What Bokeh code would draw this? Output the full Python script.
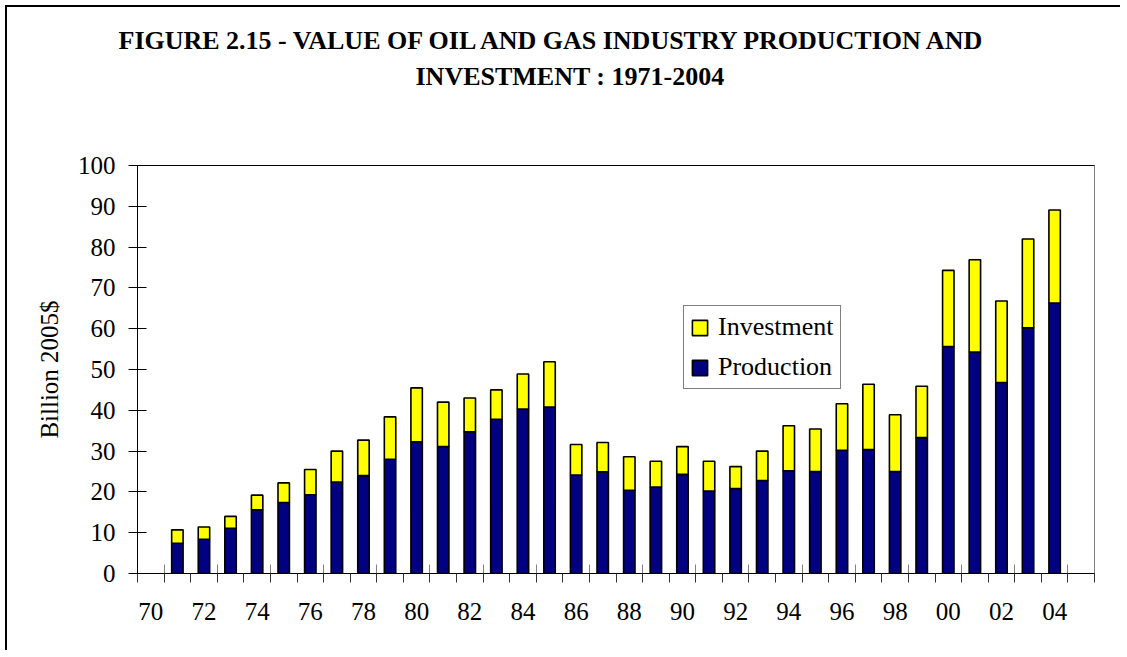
from bokeh.plotting import figure
from bokeh.models import (Range1d, LinearAxis, FixedTicker, ColumnDataSource,
                          Legend, LegendItem, Title)
from bokeh.embed import file_html
from bokeh.resources import INLINE

# ---------------- data ----------------
axis_years = list(range(1970, 2006))          # category slots on the x axis
years = list(range(1971, 2005))
production = [7.4, 8.4, 11.1, 15.6, 17.4, 19.3, 22.4, 24.0, 28.0, 32.3,
              31.1, 34.7, 37.8, 40.3, 40.8, 24.1, 24.9, 20.4, 21.2, 24.3,
              20.2, 20.8, 22.8, 25.2, 25.0, 30.2, 30.4, 25.0, 33.3, 55.6,
              54.3, 46.8, 60.2, 66.3]
investment = [3.3, 3.0, 2.9, 3.6, 4.8, 6.2, 7.6, 8.7, 10.4, 13.2,
              10.9, 8.3, 7.2, 8.6, 11.1, 7.5, 7.2, 8.2, 6.3, 6.8,
              7.3, 5.4, 7.2, 11.0, 10.4, 11.4, 16.0, 13.9, 12.6, 18.7,
              22.6, 20.0, 21.8, 22.8]
label_years = list(range(1970, 2005, 2))
y_ticks = list(range(0, 101, 10))
title_line1 = "FIGURE 2.15 - VALUE OF OIL AND GAS INDUSTRY PRODUCTION AND"
title_line2 = "INVESTMENT : 1971-2004"
y_title = "Billion 2005$"

FONT = "Liberation Serif"
NAVY = "#000080"
YELLOW = "#FFFF00"

first = axis_years[0]
n_slots = len(axis_years)
x_pos = [y - first + 0.5 for y in years]

source = ColumnDataSource(dict(x=x_pos, Production=production, Investment=investment))

p = figure(width=1115, height=645, output_backend="svg", toolbar_location=None,
           x_range=Range1d(0, n_slots), y_range=Range1d(0, 100),
           min_border_left=130, min_border_right=28, min_border_top=158,
           min_border_bottom=79, x_axis_type=None, y_axis_type=None)
p.background_fill_color = "white"
p.border_fill_color = "white"
p.outline_line_color = "#808080"
p.outline_line_width = 1
p.styles = {"margin-top": "5px", "margin-left": "5px",
            "border-top": "2px solid black", "border-left": "2px solid black"}

renderers = p.vbar_stack(["Production", "Investment"], x="x", width=0.43,
                         color=[NAVY, YELLOW], line_color="black", line_width=1.6,
                         source=source)

# y axis
yax = LinearAxis(ticker=FixedTicker(ticks=y_ticks, minor_ticks=[]))
yax.axis_label = y_title
yax.axis_label_text_font = FONT
yax.axis_label_text_font_size = "25px"
yax.axis_label_text_font_style = "normal"
yax.axis_label_text_color = "black"
yax.axis_label_standoff = 12
yax.major_label_text_font = FONT
yax.major_label_text_font_size = "25px"
yax.major_label_text_color = "black"
yax.major_label_standoff = 13
yax.major_tick_in = 9
yax.major_tick_out = 9
yax.major_tick_line_color = "black"
yax.axis_line_color = "black"
p.add_layout(yax, "left")

# grid
p.ygrid.ticker = FixedTicker(ticks=y_ticks[1:-1])
p.ygrid.grid_line_color = "#808080"
p.ygrid.grid_line_width = 1
p.xgrid.grid_line_color = None

# x axis A: grey tick marks (inside) at odd slot boundaries, no labels
xax_a = LinearAxis(ticker=FixedTicker(ticks=[], minor_ticks=list(range(1, n_slots, 2))))
xax_a.major_tick_in = 0
xax_a.major_tick_out = 0
xax_a.minor_tick_in = 9
xax_a.minor_tick_out = 0
xax_a.minor_tick_line_color = "#808080"
xax_a.axis_line_color = "black"
xax_a.major_label_standoff = 0
p.add_layout(xax_a, "below")

# x axis B: labels centred in slots, tick marks (outside) at slot boundaries
label_pos = [y - first + 0.5 for y in label_years]
xax_b = LinearAxis(ticker=FixedTicker(ticks=label_pos,
                                      minor_ticks=list(range(0, n_slots + 1))))
xax_b.major_label_overrides = {pos: f"{y % 100:02d}" for pos, y in zip(label_pos, label_years)}
xax_b.major_label_text_font = FONT
xax_b.major_label_text_font_size = "25px"
xax_b.major_label_text_color = "black"
xax_b.major_label_standoff = 20
xax_b.major_tick_in = 0
xax_b.major_tick_out = 0
xax_b.minor_tick_in = 0
xax_b.minor_tick_out = 9
xax_b.minor_tick_line_color = "#333333"
xax_b.axis_line_color = "black"
p.add_layout(xax_b, "below")

# top frame line (black) + spacing above the frame
top_ax = LinearAxis(ticker=FixedTicker(ticks=[], minor_ticks=[0]))
top_ax.axis_line_color = "black"
top_ax.major_tick_line_color = None
top_ax.minor_tick_line_color = "white"
top_ax.minor_tick_in = 0
top_ax.minor_tick_out = 72
top_ax.major_label_standoff = 0
p.add_layout(top_ax, "above")

# titles
t2 = Title(text=title_line2, align="left", offset=278, standoff=6,
           text_font=FONT, text_font_size="26px", text_font_style="bold",
           text_color="black")
t1 = Title(text=title_line1, align="left", offset=-19, standoff=4,
           text_font=FONT, text_font_size="26px", text_font_style="bold",
           text_color="black")
p.add_layout(t2, "above")
p.add_layout(t1, "above")

# legend
legend = Legend(items=[LegendItem(label="Investment", renderers=[renderers[1]]),
                       LegendItem(label="Production", renderers=[renderers[0]])],
                location=(546, 184))
legend.label_text_font = FONT
legend.label_text_font_size = "26px"
legend.label_text_color = "black"
legend.glyph_width = 19
legend.glyph_height = 19
legend.label_standoff = 9
legend.spacing = 10
legend.padding = 6
legend.margin = 0
legend.border_line_color = "black"
legend.border_line_width = 1
legend.background_fill_color = "white"
legend.background_fill_alpha = 1
p.add_layout(legend, "center")

open("out.html", "w").write(file_html(p, INLINE))
